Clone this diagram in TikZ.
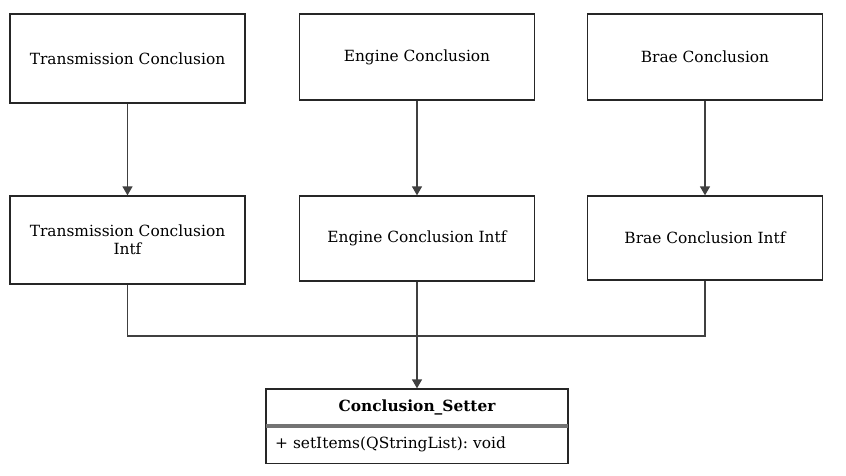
\documentclass[tikz,border=0pt]{standalone}
\usepackage{fontspec}
\setmainfont{DejaVu Serif}
\usetikzlibrary{arrows.meta}
\frenchspacing
\begin{document}
\begin{tikzpicture}[x=1pt,y=-1pt,
  box/.style={draw=black!85, line width=1.3pt, fill=white, minimum width=235pt, align=center, font=\fontsize{15.4}{18}\selectfont, inner sep=0pt},
  conn/.style={draw=black!75, line width=1.3pt},
  arr/.style={conn, -{Triangle[length=9pt,width=10pt]}}]
\useasboundingbox (0,0) rectangle (846,476);
\fill[white] (0,0) rectangle (846,476);
\node[box, minimum height=89pt] (tc) at (127.5,58.5) {Transmission Conclusion};
\node[box, minimum height=86pt] (ec) at (417,57) {Engine Conclusion};
\node[box, minimum height=86pt] (bc) at (705,57) {Brae Conclusion};
\node[box, minimum height=88pt] (ti) at (127.5,240) {Transmission Conclusion\\Intf};
\node[box, minimum height=85pt] (ei) at (417,238.5) {Engine Conclusion Intf};
\node[box, minimum height=84pt] (bi) at (705,238) {Brae Conclusion Intf};
\draw[arr] (tc.south) -- (ti.north);
\draw[arr] (ec.south) -- (ei.north);
\draw[arr] (bc.south) -- (bi.north);
% class box
\node[draw=black!85, line width=1.3pt, fill=white, minimum width=302pt, minimum height=36pt, inner sep=0pt, font=\bfseries\fontsize{15.4}{18}\selectfont] (cs) at (417,407) {Conclusion\_Setter};
\node[draw=black!85, line width=1.3pt, fill=white, minimum width=302pt, minimum height=37pt, inner sep=0pt, text width=284pt, align=left, anchor=north, font=\fontsize{15.4}{18}\selectfont] (csb) at (cs.south) {+ setItems(QStringList): void};
\draw[black!55, line width=4pt] (cs.south west) ++(0.7,0) -- ([xshift=-0.7pt]cs.south east);
\coordinate (j) at (417,336);
\draw[conn] (ti.south) |- (j);
\draw[conn] (bi.south) |- (j);
\draw[arr] (ei.south) -- (cs.north);
\end{tikzpicture}
\end{document}
